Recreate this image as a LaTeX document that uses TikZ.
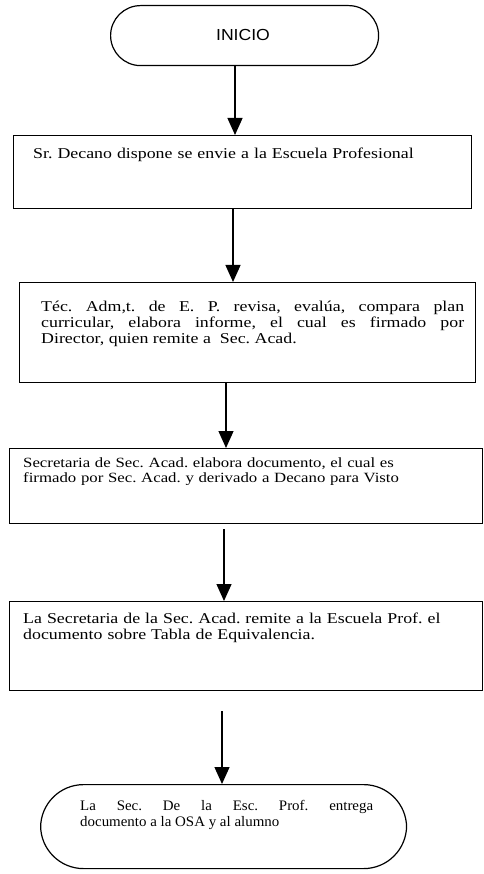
\documentclass[tikz,border=0pt]{standalone}
\usepackage{fontspec}
\setmainfont[FakeStretch=1.19]{Liberation Serif}
\newfontfamily\plainserif[FakeStretch=1.03]{Liberation Serif}
\newfontfamily\sansf[FakeStretch=1.1]{Liberation Sans}
\usetikzlibrary{arrows.meta}
\begin{document}
\frenchspacing
\begin{tikzpicture}[x=1pt,y=-1pt,
  boxst/.style={draw, line width=1.2pt, rectangle, inner sep=0pt, anchor=north west},
  termst/.style={draw, line width=1.2pt, rectangle, inner sep=0pt, anchor=north west},
  txt/.style={anchor=base west, inner sep=0pt, font=\fontsize{15}{16}\selectfont},
  arr/.style={line width=1.3pt, -{Triangle[length=17pt,width=15pt]}}
]
\useasboundingbox (0,0) rectangle (483,874);
% terminal start
\node[termst, rounded corners=30pt, minimum width=268pt, minimum height=60pt] (inicio) at (110,5) {};
\node[inner sep=0pt, font=\sansf\fontsize{16}{18}\selectfont] (tinicio) at (243,35) {INICIO};
% box 1
\node[boxst, minimum width=458pt, minimum height=73pt] (b1) at (13,135) {};
\node[txt, text width=430pt] (t1) at (33,159) {Sr. Decano dispone se envie a la Escuela Profesional};
% box 2
\node[boxst, minimum width=456pt, minimum height=100pt] (b2) at (19,282) {};
\node[txt, text width=423pt, align=justify] (t2) at (41,311) {Téc. Adm,t. de E. P. revisa, evalúa, compara plan\linebreak curricular, elabora informe, el cual es firmado por\linebreak Director, quien remite a~ Sec. Acad.};
% box 3
\node[boxst, minimum width=473pt, minimum height=75pt] (b3) at (9,448) {};
\node[txt, text width=450pt, align=left, font=\fontsize{14.1}{15.5}\selectfont] (t3) at (23,467) {Secretaria de Sec. Acad. elabora documento, el cual es\\firmado por Sec. Acad. y derivado a Decano para Visto};
% box 4
\node[boxst, minimum width=473pt, minimum height=89pt] (b4) at (9,601) {};
\node[txt, text width=450pt, align=left] (t4) at (23,623) {La Secretaria de la Sec. Acad. remite a la Escuela Prof. el\\documento sobre Tabla de Equivalencia.};
% terminal end
\node[termst, rounded corners=43pt, minimum width=366pt, minimum height=84pt] (fin) at (40,784) {};
\node[txt, text width=293pt, align=justify, font=\plainserif\fontsize{14.5}{16}\selectfont] (tfin) at (80,810) {La Sec. De la Esc. Prof. entrega\linebreak documento a la OSA y al alumno};
% arrow columns
\coordinate (x1) at (235,0);
\coordinate (x2) at (233,0);
\coordinate (x3) at (226,0);
\coordinate (x4) at (224,0);
\coordinate (x5) at (222,0);
\draw[arr] (inicio.south -| x1) -- (b1.north -| x1);
\draw[arr] (b1.south -| x2) -- (b2.north -| x2);
\draw[arr] (b2.south -| x3) -- (b3.north -| x3);
\draw[arr, shorten <=5pt] (b3.south -| x4) -- (b4.north -| x4);
\draw[arr, shorten <=20pt] (b4.south -| x5) -- (fin.north -| x5);
\end{tikzpicture}
\end{document}
